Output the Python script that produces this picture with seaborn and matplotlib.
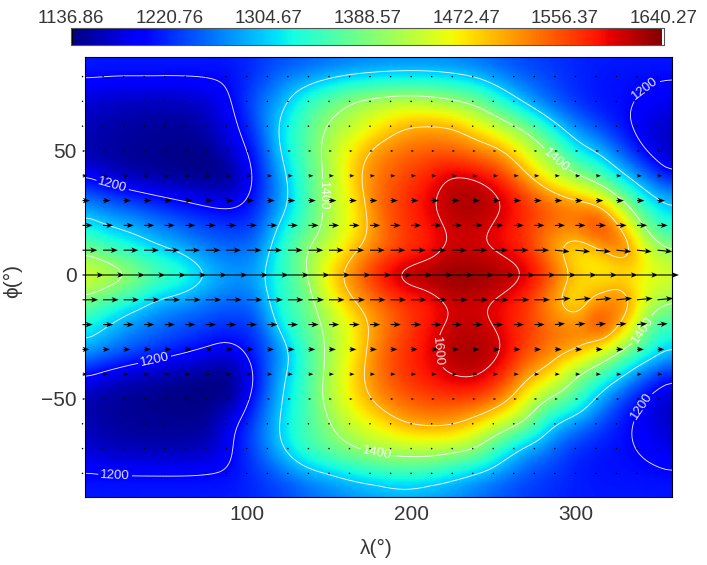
#Importing header files
import numpy as np
import pandas as pd
import matplotlib
matplotlib.use("Agg")
import matplotlib.pyplot as plt
import matplotlib.tri as mtri
from matplotlib.colors import ListedColormap
from matplotlib.transforms import Affine2D
import seaborn as sns

#Temperature, one row per latitude, one column per longitude
lons = [0, 15, 30, 45, 60, 75, 90, 105, 120, 135, 150, 165, 180, 195, 210, 225, 240, 255, 270, 285, 300, 315, 330, 345, 360]
lats = [90, 80, 70, 60, 50, 40, 30, 20, 10, 0, -10, -20, -30, -40, -50, -60, -70, -80, -90]

t_p90 = [1218,1216,1216,1216,1216,1216,1218,1222,1226,1232,1238,1242,1245,1245,1245,1242,1238,1230,1224,1220,1218,1216,1216,1216,1216]
t_p80 = [1204,1203,1203,1203,1203,1203,1205,1225,1255,1272,1288,1300,1308,1312,1312,1306,1292,1270,1250,1235,1220,1210,1206,1203,1202]
t_p70 = [1175,1170,1165,1165,1165,1175,1198,1245,1285,1335,1375,1408,1422,1430,1425,1408,1385,1335,1285,1250,1225,1210,1205,1195,1185]
t_p60 = [1165,1158,1152,1150,1150,1160,1188,1235,1305,1360,1405,1430,1465,1495,1503,1500,1465,1425,1385,1320,1270,1235,1205,1180,1165]
t_p50 = [1160,1152,1148,1145,1142,1145,1175,1215,1300,1360,1420,1475,1515,1535,1545,1540,1525,1505,1450,1395,1325,1290,1240,1190,1165]
t_p40 = [1200,1175,1160,1150,1145,1140,1145,1205,1280,1350,1415,1485,1530,1555,1575,1604,1596,1565,1505,1445,1405,1360,1300,1250,1195]
t_p30 = [1265,1245,1230,1215,1202,1190,1188,1215,1275,1345,1420,1470,1535,1565,1595,1618,1622,1605,1570,1535,1510,1475,1395,1320,1290]
t_p20 = [1325,1300,1285,1265,1248,1235,1225,1235,1305,1360,1415,1465,1525,1565,1585,1606,1608,1590,1565,1540,1535,1570,1480,1375,1320]
t_p10 = [1390,1360,1335,1310,1290,1265,1255,1265,1330,1395,1440,1490,1530,1560,1578,1604,1602,1590,1570,1510,1470,1490,1530,1440,1395]
t_000 = [1455,1438,1410,1370,1345,1308,1280,1285,1335,1390,1475,1530,1585,1620,1630,1636,1634,1625,1605,1560,1495,1465,1462,1455,1445]
t_m10 = [1395,1360,1330,1295,1280,1262,1252,1262,1330,1375,1445,1500,1535,1565,1578,1604,1604,1590,1565,1510,1460,1510,1530,1440,1405]
t_m20 = [1330,1300,1272,1255,1242,1232,1225,1235,1315,1365,1415,1465,1515,1555,1585,1605,1608,1590,1565,1535,1525,1570,1490,1375,1335]
t_m30 = [1290,1265,1245,1230,1215,1200,1190,1220,1270,1345,1410,1465,1530,1565,1590,1618,1622,1605,1560,1530,1510,1460,1395,1340,1300]
t_m40 = [1205,1185,1170,1160,1150,1145,1145,1200,1285,1345,1415,1480,1530,1565,1585,1604,1606,1575,1515,1475,1405,1355,1300,1245,1205]
t_m50 = [1160,1150,1145,1142,1140,1140,1150,1215,1295,1350,1420,1470,1515,1540,1555,1560,1555,1520,1455,1395,1355,1285,1230,1190,1165]
t_m60 = [1165,1155,1150,1148,1148,1150,1190,1240,1302,1350,1395,1440,1465,1498,1510,1505,1475,1435,1390,1310,1270,1235,1205,1185,1165]
t_m70 = [1175,1165,1160,1158,1158,1165,1195,1240,1295,1345,1375,1400,1420,1425,1428,1420,1400,1335,1285,1255,1225,1212,1205,1195,1180]
t_m80 = [1203,1202,1202,1202,1202,1203,1205,1225,1250,1280,1300,1320,1335,1345,1340,1320,1295,1270,1245,1230,1215,1208,1206,1204,1202]
t_m90 = [1216,1214,1214,1214,1214,1214,1216,1220,1224,1232,1242,1250,1255,1255,1250,1245,1238,1228,1222,1216,1214,1214,1214,1214,1214]

temp_rows = [t_p90, t_p80, t_p70, t_p60, t_p50, t_p40, t_p30, t_p20, t_p10, t_000,
             t_m10, t_m20, t_m30, t_m40, t_m50, t_m60, t_m70, t_m80, t_m90]

#Wind arrows: eastward length per latitude row, in degrees of longitude
wind_lats = [80, 70, 60, 50, 40, 30, 20, 10, 0, -10, -20, -30, -40, -50, -60, -70, -80]
wind_u = [0.4, 0.5, 0.7, 1.8, 3.0, 4.5, 6.2, 9.0, 13.0, 9.5, 6.2, 4.2, 3.0, 1.8, 0.7, 0.5, 0.4]
wind_lons = [0, 12.5, 25, 37.5, 50, 62.5, 75, 87.5, 100, 112.5, 125, 137.5, 150, 162.5, 175, 187.5, 200,
             212.5, 225, 237.5, 250, 262.5, 275, 287.5, 300, 312.5, 325, 337.5, 350]

#Northward part of the few arrows that visibly tilt
wind_v_tilted = {10: (287.5, -0.6), -10: (287.5, 0.6), -20: (287.5, 0.4)}

#Colour bar and axis texts
cbar_values = [1136.86, 1220.76, 1304.67, 1388.57, 1472.47, 1556.37, 1640.27]
cbar_labels = ["1136.86", "1220.76", "1304.67", "1388.57", "1472.47", "1556.37", "1640.27"]
contour_levels = [1200, 1300, 1400, 1500, 1600]
label_points = [(18.5, 36.7), (147.6, 32), (290, 47.6), (343.6, 74), (19.8, -81), (43.5, -33),
                (179, -72), (211, -31), (338, -21), (337, -51.6)]

sns.set_theme(style="ticks")
plt.rcParams["font.family"] = ["Liberation Sans", "DejaVu Sans"]
text_color = "#363636"

fig = plt.figure(figsize=(7.07, 5.65), dpi=100)
ax = fig.add_axes([85 / 707, 1 - 496.7 / 565, 587 / 707, 440.2 / 565])
cax = fig.add_axes([70.5 / 707, 1 - 45.3 / 565, 593.5 / 707, 17.3 / 565])

#Jet with a black first level and a white last level, like the bar in the picture
levels = plt.get_cmap("jet")(np.arange(1, 255) / 255)
cmap = ListedColormap(np.vstack([[0, 0, 0, 1], levels, [1, 1, 1, 1]]))

temp = pd.DataFrame(temp_rows, index=lats, columns=lons).sort_index()

#Smooth surface through the read values, with the cubic interpolator of matplotlib
lon_grid, lat_grid = np.meshgrid(temp.columns.values.astype(float), temp.index.values.astype(float))
nrow, ncol = lon_grid.shape
corner = (np.arange(nrow - 1)[:, None] * ncol + np.arange(ncol - 1)).ravel()
triangles = np.vstack([np.c_[corner, corner + 1, corner + ncol],
                       np.c_[corner + 1, corner + ncol + 1, corner + ncol]])
tri = mtri.Triangulation(lon_grid.ravel(), lat_grid.ravel(), triangles)
surface = mtri.CubicTriInterpolator(tri, temp.values.ravel().astype(float), kind="geom")
fine_lon, fine_lat = np.meshgrid(np.arange(0.0, 360.5, 1.0), np.arange(-90.0, 90.5, 1.0))
fine_temp = pd.DataFrame(np.ma.filled(surface(fine_lon, fine_lat), np.nan))

#Soften the hand read grid a little with running means along both axes
for i in range(2):
    fine_temp = fine_temp.rolling(11, center=True, min_periods=1).mean()
    fine_temp = fine_temp.T.rolling(11, center=True, min_periods=1).mean().T
fine_temp = fine_temp.clip(1139, 1637)

sns.heatmap(fine_temp, ax=ax, cbar_ax=cax, cmap=cmap, vmin=cbar_values[0], vmax=cbar_values[-1],
            xticklabels=False, yticklabels=False, shading="gouraud",
            cbar_kws={"orientation": "horizontal", "ticks": cbar_values})

#The mesh is drawn in index units, so move it on to longitude and latitude
mesh = ax.collections[0]
mesh.set_transform(Affine2D().translate(0, -90) + ax.transData)
ax.set_xlim(1.5, 358.8)
ax.set_ylim(-89.4, 88.1)
ax.set_xlabel("")
ax.set_ylabel("")

#Contours
cs = ax.contour(fine_lon, fine_lat, fine_temp.values, levels=contour_levels, colors="white", linewidths=0.65, alpha=0.9)
ax.clabel(cs, fmt="%d", fontsize=9.5, colors="white", inline=True, inline_spacing=2, manual=label_points)

#Wind arrows
arrow_x, arrow_y = np.meshgrid(wind_lons, wind_lats)
arrow_u = np.tile(np.array(wind_u)[:, None], (1, len(wind_lons)))
arrow_v = np.zeros(arrow_u.shape)
for lat, (start, v) in wind_v_tilted.items():
    arrow_v[wind_lats.index(lat), np.array(wind_lons) >= start] = v
ax.quiver(arrow_x, arrow_y, arrow_u, arrow_v, angles="xy", scale_units="xy", scale=1, units="dots",
          width=1.1, headwidth=5, headlength=6.5, headaxislength=5, minlength=1.5,
          color="black", clip_on=False, zorder=5)

#Axes ticks
ax.set_xticks([100, 200, 300])
ax.set_xticklabels(["100", "200", "300"])
ax.set_xticks(np.arange(10, 360, 10), minor=True)
ax.set_yticks([-50, 0, 50])
ax.set_yticklabels(["\u221250", "0", "50"])
ax.set_yticks(np.arange(-80, 90, 10), minor=True)
ax.tick_params(axis="both", which="major", direction="in", length=7, width=0.8, top=True, right=True,
               labelsize=15, labelcolor=text_color, color="black", pad=6)
ax.tick_params(axis="both", which="minor", direction="in", length=3.5, width=0.8, top=True, right=True, color="black")
for side in ax.spines:
    ax.spines[side].set_visible(True)
    ax.spines[side].set_linewidth(0.8)
    ax.spines[side].set_color("black")

ax.set_xlabel("\u03bb(\u00b0)", fontsize=15, color=text_color)
ax.xaxis.set_label_coords(0.496, -0.097)
ax.set_ylabel("\u03d5(\u00b0)", fontsize=15, color=text_color)
ax.yaxis.set_label_coords(-0.107, 0.49)

#Colour bar ticks on top
cbar = ax.collections[0].colorbar
cbar.outline.set_linewidth(0.8)
cbar.outline.set_edgecolor("#555555")
cax.xaxis.set_ticks_position("both")
cax.set_xticks(cbar_values)
cax.set_xticklabels(cbar_labels)
cax.set_xticks((np.array(cbar_values[:-1]) + np.array(cbar_values[1:])) / 2, minor=True)
cax.tick_params(axis="x", which="major", direction="in", length=3.5, width=0.7, top=True, bottom=True,
                labeltop=True, labelbottom=False, labelsize=13.5, labelcolor=text_color, color="black", pad=1)
cax.tick_params(axis="x", which="minor", direction="in", length=2, width=0.7, top=True, bottom=True, color="black")

fig.savefig("out.png", dpi=100)
